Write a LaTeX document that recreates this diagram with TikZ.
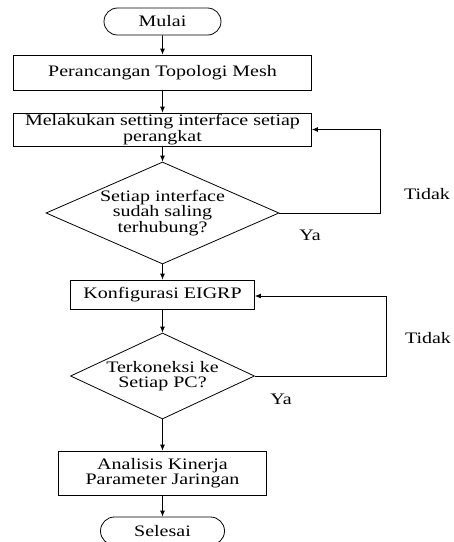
\documentclass[tikz,border=0pt]{standalone}
\usepackage{fontspec}
\setmainfont{Liberation Serif}[FakeStretch=1.25]
\usetikzlibrary{shapes.geometric,shapes.misc,arrows.meta}
\tikzstyle{chart} = [
  x=1pt,
  y=-1pt,
  line width=0.8pt,
  font=\fontsize{16}{14.5}\selectfont,
  >={Latex[length=6pt,width=5pt]},
]
\tikzstyle{terminal} = [draw, rounded rectangle, inner sep=0pt]
\tikzstyle{process} = [draw, rectangle, align=center, inner sep=0pt]
\tikzstyle{decision} = [draw, diamond, align=center, inner sep=0pt]
\tikzstyle{answer} = [inner sep=0pt]

\begin{document}
\begin{tikzpicture}[chart]
            \useasboundingbox (0,0) rectangle (454,542);
            \def\midx{162.5}

            % Start and end
            \node[terminal, minimum width=117pt, minimum height=27pt] (mulai) at (\midx,21.5) {Mulai};
            \node[terminal, minimum width=124pt, minimum height=28pt] (selesai) at (\midx,531) {Selesai};

            % Steps
            \node[process, minimum width=298pt, minimum height=35pt] (topologi) at (\midx,72.5) {Perancangan Topologi Mesh};
            \node[process, minimum width=298pt, minimum height=33pt] (setting) at (\midx,129.5) {Melakukan setting interface setiap\\perangkat};
            \node[process, minimum width=184pt, minimum height=29pt] (eigrp) at (\midx,294.5) {Konfigurasi EIGRP};
            \node[process, minimum width=208pt, minimum height=44pt] (analisis) at (\midx,473) {Analisis Kinerja\\Parameter Jaringan};

            % Checks
            \node[decision, aspect=2.28, minimum width=233pt, minimum height=102pt] (cekA) at (\midx,213) {Setiap interface\\sudah saling\\terhubung?};
            \node[decision, aspect=2.14, minimum width=184pt, minimum height=86pt] (cekB) at (\midx,376) {Terkoneksi ke\\Setiap PC?};

            % Main flow
            \draw[->] (mulai) -- (topologi);
            \draw[->] (topologi) -- (setting);
            \draw[->] (setting) -- (cekA);
            \draw[->] (cekA) -- (eigrp);
            \draw[->] (eigrp) -- (cekB);
            \draw[->] (cekB) -- (analisis);
            \draw[->] (analisis) -- (selesai);

            % Loops back
            \coordinate (loopA) at (380,0);
            \coordinate (loopB) at (386,0);
            \draw[->] (cekA.east) -- (cekA.east -| loopA) |- (setting.east);
            \draw[->] (cekB.east) -- (cekB.east -| loopB) |- ([yshift=-1.5pt]eigrp.east);

            % Labels
            \node[answer] (tidakA) at (427,194) {Tidak};
            \node[answer] (yaA) at (310,235) {Ya};
            \node[answer] (tidakB) at (428,338) {Tidak};
            \node[answer] (yaB) at (281,399) {Ya};
\end{tikzpicture}
\end{document}
